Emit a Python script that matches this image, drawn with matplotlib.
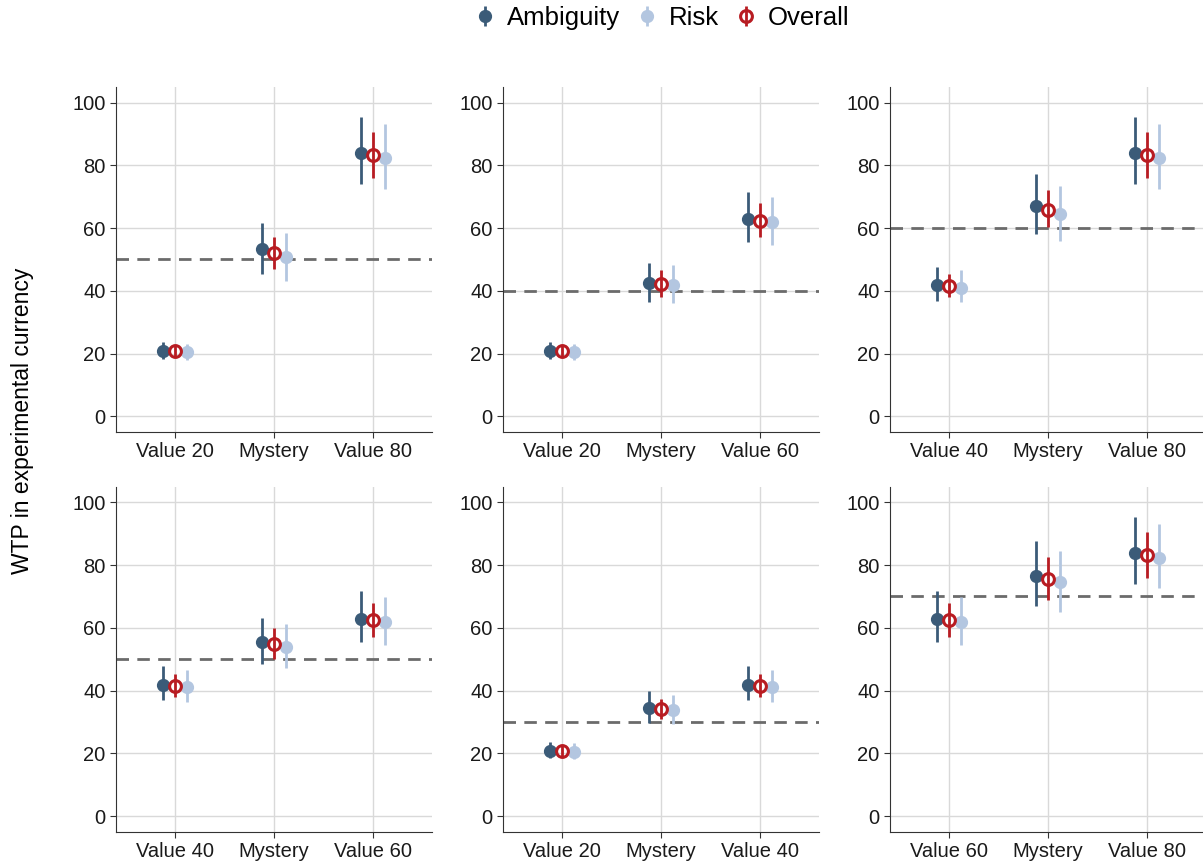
import matplotlib.pyplot as plt
from matplotlib.lines import Line2D

plt.rcParams["font.family"] = ["Liberation Sans", "DejaVu Sans"]

# shared per-condition estimates: (mean, lower, upper)
amb = {
    "Value 20": (20.8, 18.4, 23.7),
    "Value 40": (41.9, 36.9, 47.7),
    "Value 60": (62.9, 55.4, 71.6),
    "Value 80": (83.9, 73.9, 95.4),
}
ovr = {
    "Value 20": (20.7, 19.0, 22.4),
    "Value 40": (41.4, 37.9, 45.3),
    "Value 60": (62.4, 57.1, 67.9),
    "Value 80": (83.2, 76.0, 90.5),
}
rsk = {
    "Value 20": (20.4, 18.1, 23.2),
    "Value 40": (41.0, 36.3, 46.5),
    "Value 60": (61.8, 54.5, 69.9),
    "Value 80": (82.2, 72.6, 93.2),
}

# panels: low value, high value, dashed reference (midpoint)
panel_low = ["Value 20", "Value 20", "Value 40", "Value 40", "Value 20", "Value 60"]
panel_high = ["Value 80", "Value 60", "Value 80", "Value 60", "Value 40", "Value 80"]
panel_ref = [50, 40, 60, 50, 30, 70]

# mystery estimates per panel
myst_amb = [(53.2, 45.4, 61.6), (42.6, 36.3, 48.9), (67.0, 58.0, 77.1),
            (55.4, 48.4, 63.2), (34.3, 29.5, 39.8), (76.5, 67.0, 87.5)]
myst_ovr = [(52.2, 46.9, 57.3), (42.3, 38.1, 46.5), (65.9, 60.2, 72.1),
            (54.7, 49.9, 59.8), (34.1, 30.8, 37.4), (75.5, 68.9, 82.4)]
myst_rsk = [(50.7, 43.2, 58.4), (41.9, 36.2, 48.1), (64.6, 56.0, 73.5),
            (53.9, 47.2, 61.1), (33.8, 29.3, 38.5), (74.5, 65.1, 84.4)]

c_amb = "#3b5b78"
c_rsk = "#b3c6e0"
c_ovr = "#b81c22"

fig = plt.figure(figsize=(12.03, 8.65), dpi=100)

lefts = [0.0964, 0.4181, 0.7398]
bottoms = [0.5006, 0.0385]
w, h = 0.2627, 0.399

for i in range(6):
    ax = fig.add_axes([lefts[i % 3], bottoms[i // 3], w, h])
    cats = [panel_low[i], "Mystery", panel_high[i]]
    series = [
        ([amb[panel_low[i]], myst_amb[i], amb[panel_high[i]]], -0.12, c_amb, c_amb),
        ([rsk[panel_low[i]], myst_rsk[i], rsk[panel_high[i]]], 0.12, c_rsk, c_rsk),
        ([ovr[panel_low[i]], myst_ovr[i], ovr[panel_high[i]]], 0.0, c_ovr, "none"),
    ]
    for vals, off, col, face in series:
        xs = [k + off for k in range(3)]
        ys = [v[0] for v in vals]
        lo = [v[0] - v[1] for v in vals]
        hi = [v[2] - v[0] for v in vals]
        ax.errorbar(xs, ys, yerr=[lo, hi], fmt="o", color=col, mfc=face,
                    mec=col, mew=2.2 if face == "none" else 1,
                    ms=8.5, elinewidth=2, capsize=0, zorder=3)
    ax.axhline(panel_ref[i], color="#6b6b6b", lw=2, ls=(0, (4.5, 3)), zorder=2)
    ax.set_xlim(-0.6, 2.6)
    ax.set_ylim(-5, 105)
    ax.set_yticks([0, 20, 40, 60, 80, 100])
    ax.set_xticks(range(3))
    ax.set_xticklabels(cats)
    ax.tick_params(labelsize=14.5, color="#333333", length=4, labelcolor="#1a1a1a")
    ax.grid(True, color="#d9d9d9", lw=1)
    ax.set_axisbelow(True)
    for s in ["top", "right"]:
        ax.spines[s].set_visible(False)
    for s in ["left", "bottom"]:
        ax.spines[s].set_color("#333333")

fig.text(0.019, 0.514, "WTP in experimental currency", rotation=90,
         va="center", ha="center", fontsize=16.5)

handles = []
for col, face, mew in [(c_amb, c_amb, 1), (c_rsk, c_rsk, 1), (c_ovr, "none", 2.2)]:
    bar = Line2D([], [], color=col, marker="|", ms=15, mew=2, lw=0)
    dot = Line2D([], [], color=col, marker="o", mfc=face, mec=col, mew=mew, ms=8.5, lw=0)
    handles.append((bar, dot))

leg = fig.legend(handles, ["Ambiguity", "Risk", "Overall"], loc="center",
                 bbox_to_anchor=(0.55, 0.979), ncol=3, frameon=False,
                 fontsize=18.5, handlelength=0.9, handletextpad=0.4,
                 columnspacing=0.6)

fig.savefig("out.png", dpi=100)
